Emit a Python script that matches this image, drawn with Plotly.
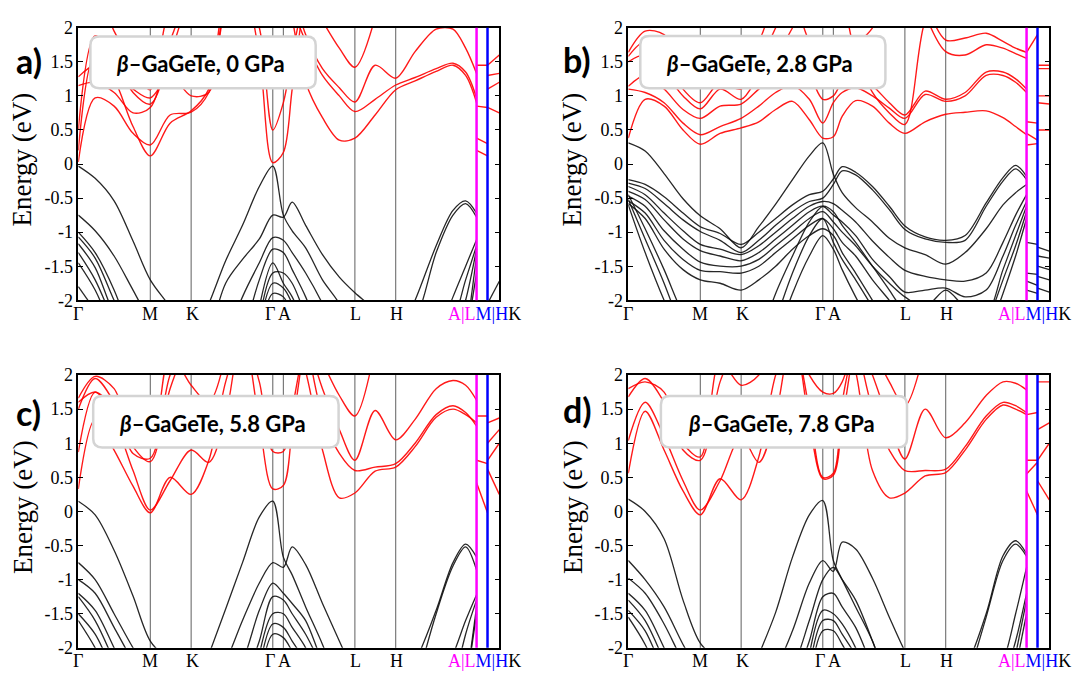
import plotly.graph_objects as go

W, H = 1075, 686
_ = None  # band outside the plotted energy window

# sampling of the k-path (fraction of total path length)
# 0 Γ | 4 M | 6 K | 11 Γ | 12 A | 17 L | 19 H | 24 A|L | 26 M|H | 28 K
K_PATH = [0.000, 0.040, 0.085, 0.130, 0.171, 0.218, 0.268, 0.310, 0.350, 0.390, 0.430, 0.462,
          0.487, 0.508, 0.540, 0.580, 0.620, 0.657, 0.705, 0.754, 0.800, 0.850, 0.890, 0.920,
          0.946, 0.946, 0.972, 0.972, 1.000]
# continuous pieces of the path: Γ-M-K-Γ-A-L-H-A, L-M, H-K
PIECES = [(0, 25), (25, 27), (27, 29)]
SYM_LINES = [0.171, 0.268, 0.462, 0.487, 0.657, 0.754]
AL_LINE, MH_LINE = 0.946, 0.972

# ---------------- β-GaGeTe, 0 GPa ----------------
VB_0GPA = [
    [-0.03, -0.21, -0.54, -1.13, -1.70, -2.10, -2.60, -2.05, -1.42, -0.90, -0.33, -0.03,
     -0.75, -0.98, -1.23, -1.70, -2.05, -2.60, _, -2.60, -2.00, -1.20, -0.68, -0.54, -0.72, _, _, -2.05, -1.72],
    [-0.75, -0.98, -1.35, -1.85, -2.30, -2.60, _, -2.60, -1.75, -1.40, -1.10, -0.75,
     -0.78, -0.56, -0.90, -1.33, -1.66, -1.89, -2.15, -2.60, -2.30, -1.30, -0.75, -0.58, -0.78, _, _, _, _],
    [-1.00, -1.30, -1.85, -2.60, _, _, _, _, -2.60, -1.95, -1.45, -1.08,
     -1.12, -1.30, -1.60, -2.05, -2.60, _, _, _, _, -2.60, -1.95, -1.50, -1.11, _, _, _, _],
    [-1.07, -1.38, -2.00, -2.60, _, _, _, _, _, -2.60, -1.70, -1.25,
     -1.30, -1.55, -1.95, -2.60, _, _, _, _, _, -2.60, -2.30, -1.70, -1.20, _, _, _, _],
    [-1.17, -1.52, -2.20, -2.60, _, _, _, _, _, _, -2.10, -1.45,
     -1.75, -1.95, -2.40, _, _, _, _, _, _, _, -2.60, -2.00, -1.25, _, _, _, _],
    [-1.30, -1.70, -2.35, _, _, _, _, _, _, _, -2.40, -1.75,
     -1.82, -2.05, -2.60, _, _, _, _, _, _, _, _, -2.60, -1.35, _, _, _, _],
    [-1.45, -1.85, -2.50, _, _, _, _, _, _, _, -2.50, -1.90,
     -1.95, -2.20, -2.60, _, _, _, _, _, _, _, _, -2.60, -1.60, _, _, _, _],
    [-1.80, -2.15, _, _, _, _, _, _, _, _, -2.30, -1.60,
     -1.60, -1.75, -2.20, -2.60, _, _, _, _, _, _, _, _, _, _, _, _, _],
]
CB_0GPA = [
    [0.03, 0.97, 0.85, 0.45, 0.28, 0.72, 0.76, 1.05, 2.30, 2.60, 1.60, 0.02,
     0.17, 1.10, 2.60, _, _, _, _, _, _, _, _, _, _, 0.20, 0.12, 0.83, 0.75],
    [0.20, 1.60, 1.25, 0.55, 0.12, 0.60, 0.78, 1.10, 2.40, 2.60, 2.00, 0.50,
     0.90, 1.60, 2.60, _, _, _, _, _, _, _, _, _, _, 0.38, 0.30, 1.10, 1.20],
    [0.50, 1.88, 1.55, 1.05, 0.88, 1.60, 2.60, _, _, _, _, _,
     _, _, _, _, _, _, _, _, _, _, _, _, _, 0.85, 0.83, 1.30, 1.33],
    [1.15, 1.20, 1.05, 0.75, 0.83, 1.80, 2.60, _, _, _, _, _,
     _, _, _, _, _, _, _, _, _, _, _, _, _, 1.45, 1.45, 1.45, 1.60],
    [1.28, 1.45, 1.35, 1.10, 0.97, 1.30, 1.00, 1.05, 2.30, 2.60, _, _,
     _, _, _, _, _, _, _, _, _, _, _, _, _, _, _, _, _],
    [2.60, 2.60, 1.95, 1.45, 1.09, 2.30, 2.60, _, _, _, _, _,
     _, _, _, _, _, _, _, _, _, _, _, _, _, _, _, _, _],
    [_, _, _, _, _, _, _, _, _, _, _, _,
     _, 2.15, 1.20, 0.68, 0.35, 0.38, 0.72, 1.09, 1.22, 1.36, 1.45, 1.30, 0.90, _, _, _, _],
    [_, _, _, _, _, _, _, _, _, _, _, _,
     _, 2.30, 1.80, 1.30, 1.00, 0.77, 0.95, 1.16, 1.27, 1.40, 1.48, 1.35, 0.97, _, _, _, _],
    [_, _, _, _, _, _, _, _, _, _, _, _,
     _, 2.60, 1.90, 1.40, 1.12, 0.91, 1.45, 1.26, 1.65, 1.98, 1.98, 1.70, 1.33, _, _, _, _],
    [_, _, _, _, _, _, _, _, _, _, _, _,
     _, _, _, 2.10, 1.70, 1.42, 2.15, _, _, _, _, _, _, _, _, _, _],
]

# ---------------- β-GaGeTe, 2.8 GPa ----------------
VB_2P8GPA = [
    [0.31, 0.19, -0.14, -0.51, -0.76, -0.95, -1.23, -0.92, -0.59, -0.23, 0.12, 0.31,
     -0.15, -0.42, -0.64, -0.85, -1.09, -1.23, -1.33, -1.47, -1.30, -0.95, -0.60, -0.42, -0.30, -1.15, -1.18, -1.22, -1.28],
    [-0.23, -0.30, -0.48, -0.72, -0.92, -1.02, -1.18, -1.00, -0.80, -0.60, -0.45, -0.40,
     -0.22, -0.04, -0.12, -0.33, -0.62, -0.91, -1.07, -1.12, -1.05, -0.57, -0.20, -0.02, -0.18, -1.60, -1.62, -1.35, -1.38],
    [-0.28, -0.36, -0.58, -0.82, -0.99, -1.12, -1.30, -1.12, -0.90, -0.70, -0.55, -0.50,
     -0.30, -0.10, -0.16, -0.38, -0.67, -0.96, -1.10, -1.15, -1.12, -0.62, -0.25, -0.07, -0.23, -1.72, -1.78, -1.50, -1.55],
    [-0.33, -0.45, -0.72, -0.98, -1.18, -1.25, -1.33, -1.20, -1.00, -0.80, -0.62, -0.55,
     -0.58, -0.68, -0.85, -1.13, -1.37, -1.56, -1.65, -1.70, -1.72, -1.60, -1.15, -0.75, -0.45, -1.85, -1.90, -1.65, -1.70],
    [-0.40, -0.52, -0.82, -1.10, -1.27, -1.35, -1.42, -1.30, -1.10, -0.90, -0.70, -0.62,
     -0.75, -0.85, -1.05, -1.40, -1.65, -1.88, -1.85, -1.82, -1.95, -1.85, -1.35, -0.90, -0.55, _, _, -1.82, -1.88],
    [-0.47, -0.62, -0.98, -1.25, -1.44, -1.50, -1.50, -1.40, -1.20, -1.00, -0.80, -0.70,
     -0.85, -1.00, -1.20, -1.50, -1.75, -1.95, -2.10, -1.85, -2.10, -2.20, -1.55, -1.05, -0.62, _, _, _, _],
    [-0.54, -0.72, -1.12, -1.40, -1.56, -1.58, -1.60, -1.50, -1.30, -1.10, -0.90, -0.80,
     -0.95, -1.15, -1.35, -1.70, -2.00, -2.30, -2.60, _, _, -2.40, -1.70, -1.20, -0.70, _, _, _, _],
    [-0.58, -0.80, -1.25, -1.55, -1.70, -1.75, -1.85, -1.70, -1.50, -1.25, -1.05, -0.95,
     -1.05, -1.30, -1.60, -2.00, -2.40, _, _, _, _, -2.60, -1.90, -1.35, -0.80, _, _, _, _],
    [-0.45, -0.95, -1.55, -2.20, -2.60, _, _, -2.60, -1.90, -1.35, -0.85, -0.62,
     -0.70, -0.90, -1.15, -1.50, -1.85, -2.20, -2.60, _, _, _, _, _, _, _, _, _, _],
    [-0.52, -1.10, -1.75, -2.50, _, _, _, _, -2.30, -1.60, -1.05, -0.80,
     -1.15, -1.40, -1.70, -2.10, -2.50, _, _, _, _, _, _, _, _, _, _, _, _],
    [-0.60, -1.30, -2.00, -2.60, _, _, _, _, -2.60, -1.90, -1.35, -1.05,
     -1.25, -1.55, -1.95, -2.40, _, _, _, _, _, _, _, _, _, _, _, _, _],
]
CB_2P8GPA = [
    [0.38, 0.95, 0.85, 0.50, 0.29, 0.45, 0.53, 0.62, 0.80, 0.92, 0.65, 0.38,
     0.40, 0.70, 0.93, 0.85, 0.60, 0.45, 0.62, 0.73, 0.76, 0.78, 0.68, 0.55, 0.43, 0.28, 0.30, 0.50, 0.50],
    [1.10, 1.05, 0.90, 0.60, 0.43, 0.55, 0.67, 0.85, 1.05, 1.15, 0.95, 0.60,
     0.90, 1.05, 1.12, 1.00, 0.82, 0.67, 1.02, 0.92, 1.00, 1.30, 1.30, 1.20, 1.05, 0.62, 0.60, 0.90, 0.88],
    [1.14, 1.30, 1.10, 0.80, 0.67, 0.85, 0.88, 1.10, 1.30, 1.50, 1.30, 0.95,
     1.00, 1.20, 1.30, 1.15, 0.90, 0.72, 1.07, 0.95, 1.05, 1.35, 1.35, 1.25, 1.10, 0.45, 0.35, 1.00, 1.00],
    [1.50, 1.60, 1.35, 1.00, 0.81, 1.10, 0.95, 1.30, 1.60, 2.00, 2.60, _,
     _, 2.60, 1.60, 1.05, 0.75, 0.58, 2.10, 2.60, _, _, _, _, _, _, _, 1.40, 1.40],
    [1.58, 1.80, 1.60, 1.10, 0.90, 1.20, 1.10, 1.50, 2.00, 2.60, _, _,
     _, _, _, _, _, _, 2.20, 1.65, 1.60, 1.75, 1.70, 1.62, 1.55, 1.64, 1.90, 1.45, 1.45],
    [1.64, 1.95, 1.90, 1.50, 1.30, 1.70, 1.50, 1.80, 2.60, _, _, _,
     _, _, _, _, _, _, 2.40, 1.82, 1.85, 1.92, 1.80, 1.70, 1.64, _, _, _, _],
    [_, _, _, _, _, _, _, _, _, 2.60, 1.80, 1.55,
     1.55, 1.60, 1.75, 2.00, 2.60, _, _, _, _, _, _, _, _, _, _, _, _],
]

# ---------------- β-GaGeTe, 5.8 GPa ----------------
VB_5P8GPA = [
    [0.15, -0.05, -0.57, -1.24, -1.90, -2.20, _, -2.10, -1.43, -0.75, -0.08, 0.15,
     -0.67, -0.93, -1.40, -1.95, -2.60, _, _, -2.60, -2.20, -1.45, -0.75, -0.48, -0.67, _, _, -2.05, -2.30],
    [-0.75, -1.00, -1.50, -2.00, -2.40, _, _, -2.60, -2.20, -1.60, -1.05, -0.75,
     -0.82, -0.52, -0.78, -1.35, -1.90, -2.40, _, _, -2.60, -1.50, -0.80, -0.52, -0.86, _, _, _, _],
    [-1.00, -1.20, -1.70, -2.20, -2.60, _, _, _, -2.60, -2.20, -1.45, -1.05,
     -1.20, -1.35, -1.60, -2.20, -2.60, _, _, _, _, -2.60, -2.10, -1.60, -1.22, _, _, _, _],
    [-1.20, -1.45, -2.00, -2.60, _, _, _, _, _, -2.60, -1.90, -1.25,
     -1.30, -1.50, -1.80, -2.30, _, _, _, _, _, _, -2.60, -1.80, -1.30, _, _, _, _],
    [-1.25, -1.60, -2.20, _, _, _, _, _, _, _, -2.10, -1.50,
     -1.50, -1.70, -2.00, -2.60, _, _, _, _, _, _, _, -2.60, -1.40, _, _, _, _],
    [-1.50, -1.80, -2.40, _, _, _, _, _, _, _, -2.30, -1.65,
     -1.70, -1.90, -2.20, _, _, _, _, _, _, _, _, -2.60, -1.50, _, _, _, _],
    [-1.60, -2.00, -2.60, _, _, _, _, _, _, _, -2.50, -1.80,
     -1.85, -2.05, -2.40, _, _, _, _, _, _, _, _, _, _, _, _, _, _],
]
CB_5P8GPA = [
    [0.33, 1.35, 0.90, 0.37, -0.02, 0.50, 0.25, 0.75, 1.90, 2.60, 1.30, 0.33,
     0.38, 1.20, 2.60, _, _, _, _, _, _, _, _, _, _, 0.42, -0.02, 0.62, 0.25],
    [0.87, 1.75, 1.35, 0.60, 0.02, 0.45, 0.90, 0.72, 1.40, 2.60, 1.90, 0.88,
     0.88, 1.50, 2.60, _, _, _, _, _, _, _, _, _, _, 0.75, 0.70, 0.75, 1.00],
    [1.50, 1.95, 1.60, 0.95, 0.73, 1.80, 2.60, _, _, _, _, _,
     _, _, _, _, _, _, _, _, _, _, _, _, _, 1.40, 1.40, 1.00, 1.20],
    [1.60, 1.75, 1.50, 0.85, 0.78, 2.00, 2.60, _, _, _, _, _,
     _, _, _, _, _, _, _, _, _, _, _, _, _, _, _, 1.30, 1.37],
    [1.66, 1.98, 1.80, 1.10, 0.95, 2.30, 1.85, 1.60, 2.30, _, _, _,
     _, _, _, _, _, _, _, _, _, _, _, _, _, _, _, _, _],
    [_, _, _, _, _, _, _, _, _, _, _, _,
     _, 2.60, 2.05, 0.90, 0.20, 0.27, 0.59, 0.65, 0.95, 1.38, 1.50, 1.42, 1.30, _, _, _, _],
    [_, _, _, _, _, _, _, _, _, _, _, _,
     _, _, 2.60, 1.40, 0.85, 0.60, 0.65, 0.70, 1.00, 1.42, 1.55, 1.45, 1.25, _, _, _, _],
    [_, _, _, _, _, _, _, _, _, _, _, _,
     _, _, 2.60, 1.80, 1.20, 0.75, 1.48, 1.05, 1.35, 1.80, 1.92, 1.85, 1.63, _, _, _, _],
    [_, _, _, _, _, _, _, _, _, _, _, _,
     _, _, _, 2.20, 1.70, 1.40, 2.40, _, _, _, _, _, _, _, _, _, _],
]

# ---------------- β-GaGeTe, 7.8 GPa ----------------
VB_7P8GPA = [
    [0.18, 0.00, -0.40, -1.30, -1.93, -2.20, _, -2.10, -1.48, -0.67, -0.05, 0.16,
     -0.72, -1.00, -1.40, -1.90, -2.60, _, _, -2.60, -2.30, -1.50, -0.65, -0.43, -0.62, _, _, -2.05, -2.30],
    [-0.72, -1.00, -1.40, -1.95, -2.40, _, _, -2.60, -2.30, -1.75, -1.05, -0.72,
     -0.88, -0.45, -0.55, -0.98, -1.55, -2.05, -2.60, _, -2.60, -1.55, -0.72, -0.48, -0.66, _, _, _, _],
    [-0.98, -1.20, -1.65, -2.20, -2.60, _, _, _, -2.60, -2.30, -1.60, -1.00,
     -0.82, -1.00, -1.30, -1.90, -2.60, _, _, _, _, -2.60, -2.20, -1.50, -0.82, _, _, _, _],
    [-1.20, -1.45, -2.00, -2.60, _, _, _, _, _, -2.60, -1.90, -1.25,
     -1.20, -1.40, -1.70, -2.30, _, _, _, _, _, _, -2.50, -1.90, -1.20, _, _, _, _],
    [-1.30, -1.60, -2.20, _, _, _, _, _, _, _, -2.10, -1.45,
     -1.50, -1.65, -2.00, -2.60, _, _, _, _, _, _, _, -2.10, -1.30, _, _, _, _],
    [-1.45, -1.75, -2.40, _, _, _, _, _, _, _, -2.30, -1.60,
     -1.60, -1.80, -2.10, _, _, _, _, _, _, _, _, -2.30, -1.50, _, _, _, _],
    [-1.55, -1.95, -2.60, _, _, _, _, _, _, _, -2.50, -1.75,
     -1.75, -1.95, -2.30, _, _, _, _, _, _, _, _, _, _, _, _, _, _],
]
CB_7P8GPA = [
    [0.56, 1.47, 0.90, 0.30, -0.05, 0.48, 0.17, 0.80, 2.00, 2.60, 1.30, 0.48,
     0.53, 1.30, 2.60, _, _, _, _, _, _, _, _, _, _, 0.30, -0.05, 0.45, 0.17],
    [1.04, 1.60, 1.10, 0.45, 0.02, 0.45, 1.10, 0.72, 1.40, 2.60, 1.50, 0.50,
     0.56, 1.60, 2.60, _, _, _, _, _, _, _, _, _, _, 0.55, 0.72, 0.75, 1.00],
    [1.68, 1.95, 1.60, 0.90, 0.75, 1.90, 2.60, _, _, 2.60, 2.00, 1.75,
     1.73, 1.90, 2.60, _, _, _, _, _, _, _, _, _, _, 1.42, 1.45, 1.20, 1.30],
    [1.80, 1.90, 1.75, 1.00, 0.80, 2.20, 1.85, 2.00, 2.60, _, _, _,
     _, _, _, _, _, _, _, _, _, _, _, _, _, 0.75, 0.75, 1.90, 1.90],
    [_, _, _, _, _, _, _, _, _, _, _, _,
     _, 2.60, 2.05, 0.60, 0.20, 0.27, 0.52, 0.57, 0.90, 1.35, 1.56, 1.50, 1.42, _, _, _, _],
    [_, _, _, _, _, _, _, _, _, _, _, _,
     _, _, 2.60, 1.50, 0.90, 0.60, 0.60, 0.62, 0.95, 1.40, 1.60, 1.55, 1.45, _, _, _, _],
    [_, _, _, _, _, _, _, _, _, _, _, _,
     _, _, 2.60, 2.00, 1.30, 0.77, 1.50, 1.08, 1.30, 1.70, 1.90, 1.88, 1.78, _, _, _, _],
    [_, _, _, _, _, _, _, _, _, _, _, _,
     _, _, _, 2.40, 1.90, 1.55, 2.40, _, _, _, _, _, _, _, _, _, _],
]

Y_TICKS = [-2, -1.5, -1, -0.5, 0, 0.5, 1, 1.5, 2]
Y_TICK_TEXT = ["-2", "-1.5", "-1", "-0.5", "0", "0.5", "1", "1.5", "2"]
X_LABELS = [("Γ", 0.0), ("M", 0.171), ("K", 0.272), ("Γ", 0.456), ("A", 0.489), ("L", 0.659), ("H", 0.757)]

SERIF = "Liberation Serif"
SANS = "Lato"

# panel frames in pixels: left, top, right, bottom
PANELS = [
    dict(letter="a)", title="0 GPa", vb=VB_0GPA, cb=CB_0GPA, frame=(78.3, 18.3, 499.3, 299.0),
         box=(90.4, 27.3, 315.7, 80.5), text_xy=(200.0, 55.0), letter_xy=(29.0, 52.5)),
    dict(letter="b)", title="2.8 GPa", vb=VB_2P8GPA, cb=CB_2P8GPA, frame=(628.3, 18.3, 1049.3, 299.0),
         box=(640.3, 26.7, 885.4, 80.7), text_xy=(759.0, 55.0), letter_xy=(577.0, 51.0)),
    dict(letter="c)", title="5.8 GPa", vb=VB_5P8GPA, cb=CB_5P8GPA, frame=(78.3, 376.0, 499.3, 657.0),
         box=(93.2, 397.7, 338.6, 450.7), text_xy=(212.0, 425.5), letter_xy=(28.5, 415.0)),
    dict(letter="d)", title="7.8 GPa", vb=VB_7P8GPA, cb=CB_7P8GPA, frame=(628.3, 376.0, 1049.3, 657.0),
         box=(660.9, 397.7, 907.0, 450.7), text_xy=(781.0, 425.5), letter_xy=(577.0, 411.0)),
]


def px(x):
    return x / W


def py(y):
    return 1 - y / H


def path_xy(energies):
    xs, ys = [], []
    for start, stop in PIECES:
        if xs:
            xs.append(None)
            ys.append(None)
        xs.extend(K_PATH[start:stop])
        ys.extend(energies[start:stop])
    return xs, ys


def rounded_box(x0, y0, x1, y1, r):
    return (f"M {px(x0 + r)},{py(y0)} L {px(x1 - r)},{py(y0)} Q {px(x1)},{py(y0)} {px(x1)},{py(y0 + r)} "
            f"L {px(x1)},{py(y1 - r)} Q {px(x1)},{py(y1)} {px(x1 - r)},{py(y1)} "
            f"L {px(x0 + r)},{py(y1)} Q {px(x0)},{py(y1)} {px(x0)},{py(y1 - r)} "
            f"L {px(x0)},{py(y0 + r)} Q {px(x0)},{py(y0)} {px(x0 + r)},{py(y0)} Z")


fig = go.Figure()
layout = dict(width=W, height=H, margin=dict(l=0, r=0, t=0, b=0),
              paper_bgcolor="white", plot_bgcolor="white", showlegend=False)
shapes, annotations = [], []

for i, p in enumerate(PANELS):
    n = "" if i == 0 else str(i + 1)
    xa, ya = "x" + n, "y" + n
    x0, y0, x1, y1 = p["frame"]
    layout["xaxis" + n] = dict(domain=[px(x0), px(x1)], range=[0, 1], anchor=ya,
                               showgrid=False, zeroline=False, showticklabels=False, ticks="",
                               showline=True, linecolor="black", linewidth=1.5, mirror=True)
    layout["yaxis" + n] = dict(domain=[py(y1), py(y0)], range=[-2, 2], anchor=xa,
                               showgrid=False, zeroline=False, tickvals=Y_TICKS, ticktext=Y_TICK_TEXT,
                               ticks="inside", ticklen=5, tickwidth=1, tickcolor="black",
                               showline=True, linecolor="black", linewidth=1.5, mirror="ticks",
                               tickfont=dict(family=SERIF, size=18, color="black"))

    for kx in SYM_LINES:
        shapes.append(dict(type="line", xref=xa, yref=ya + " domain", x0=kx, x1=kx, y0=0, y1=1,
                           line=dict(color="rgb(95,95,95)", width=1), layer="below"))

    for band in p["vb"]:
        xs, ys = path_xy(band)
        fig.add_trace(go.Scatter(x=xs, y=ys, xaxis=xa, yaxis=ya, mode="lines", hoverinfo="skip",
                                 connectgaps=False,
                                 line=dict(color="rgba(15,15,15,0.9)", width=1.3, shape="spline", smoothing=0.9)))
    for band in p["cb"]:
        xs, ys = path_xy(band)
        fig.add_trace(go.Scatter(x=xs, y=ys, xaxis=xa, yaxis=ya, mode="lines", hoverinfo="skip",
                                 connectgaps=False,
                                 line=dict(color="rgba(255,0,0,0.9)", width=1.4, shape="spline", smoothing=0.9)))

    shapes.append(dict(type="line", xref=xa, yref=ya + " domain", x0=AL_LINE, x1=AL_LINE, y0=0, y1=1,
                       line=dict(color="#ff00ff", width=2.5), layer="above"))
    shapes.append(dict(type="line", xref=xa, yref=ya + " domain", x0=MH_LINE, x1=MH_LINE, y0=0, y1=1,
                       line=dict(color="#0000ff", width=2.5), layer="above"))

    bx0, by0, bx1, by1 = p["box"]
    shapes.append(dict(type="path", xref="paper", yref="paper", path=rounded_box(bx0, by0, bx1, by1, 9),
                       fillcolor="white", line=dict(color="rgb(212,212,212)", width=2.5), layer="above"))

    tx, ty = p["text_xy"]
    annotations.append(dict(xref="paper", yref="paper", x=px(tx), y=py(ty), showarrow=False,
                            xanchor="center", yanchor="middle",
                            text=f"<b><i>β</i>–GaGeTe, {p['title']}</b>",
                            font=dict(family=SANS, size=22, color="black")))
    lx, ly = p["letter_xy"]
    annotations.append(dict(xref="paper", yref="paper", x=px(lx), y=py(ly), showarrow=False,
                            xanchor="center", yanchor="middle", text=f"<b>{p['letter']}</b>",
                            font=dict(family=SANS, size=34, color="black")))
    annotations.append(dict(xref="paper", yref="paper", x=px(x0 - 56), y=py((y0 + y1) / 2 - 5),
                            showarrow=False, xanchor="center", yanchor="middle", textangle=-90,
                            text="Energy (eV)", font=dict(family=SERIF, size=27, color="black")))
    label_y = py(y1 + 14)
    for txt, kx in X_LABELS:
        annotations.append(dict(xref="paper", yref="paper", x=px(x0 + kx * (x1 - x0)), y=label_y,
                                showarrow=False, xanchor="center", yanchor="middle", text=txt,
                                font=dict(family=SERIF, size=18, color="black")))
    annotations.append(dict(xref="paper", yref="paper", x=px(x0 + 368), y=label_y, showarrow=False,
                            xanchor="left", yanchor="middle",
                            text='<span style="color:#ff00ff">A|L</span>'
                                 '<span style="color:#0000ff">M|H</span>K',
                            font=dict(family=SERIF, size=18, color="black")))

layout["shapes"] = shapes
layout["annotations"] = annotations
fig.update_layout(**layout)
fig.write_html("out.html")
